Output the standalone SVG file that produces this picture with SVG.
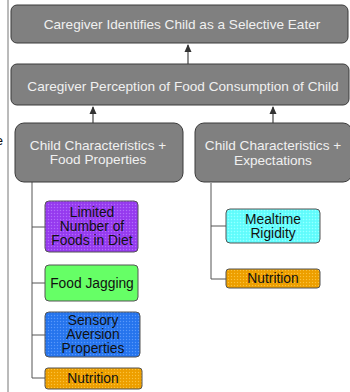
<svg xmlns="http://www.w3.org/2000/svg" width="350" height="392" viewBox="0 0 350 392">
<style>
.g{fill:#808080;stroke:#3a3a3a;stroke-width:1}
.wt{font-family:"Liberation Sans",Arial,sans-serif;font-size:13.6px;fill:#f0f0f0;text-anchor:middle}
.bt{font-family:"Liberation Sans",Arial,sans-serif;font-size:13.8px;fill:#111;text-anchor:middle}
.ln{fill:none;stroke:#555;stroke-width:1}
.ar{fill:none;stroke:#444;stroke-width:1.2}
</style>
<defs>
<marker id="ah" viewBox="0 0 8 8" refX="7" refY="4" markerWidth="7" markerHeight="7" orient="auto">
<path d="M0,0.5 L8,4 L0,7.5 Z" fill="#333"/>
</marker>
<pattern id="pp" width="3" height="3" patternUnits="userSpaceOnUse"><rect width="3" height="3" fill="#9a3ef2"/><rect width="1" height="1" fill="#b070f8"/><rect x="1.5" y="1.5" width="1" height="1" fill="#8830e0"/></pattern>
<pattern id="pg" width="3" height="3" patternUnits="userSpaceOnUse"><rect width="3" height="3" fill="#66ff66"/></pattern>
<pattern id="pb" width="3" height="3" patternUnits="userSpaceOnUse"><rect width="3" height="3" fill="#2a78f0"/><rect width="1" height="1" fill="#5a98f8"/><rect x="1.5" y="1.5" width="1" height="1" fill="#1a68e0"/></pattern>
<pattern id="pc" width="3" height="3" patternUnits="userSpaceOnUse"><rect width="3" height="3" fill="#66ffff"/><rect width="1" height="1" fill="#99ffff"/><rect x="1.5" y="1.5" width="1" height="1" fill="#55eeee"/></pattern>
<pattern id="po" width="3" height="3" patternUnits="userSpaceOnUse"><rect width="3" height="3" fill="#f0a200"/><rect width="1" height="1" fill="#f8c040"/><rect x="1.5" y="1.5" width="1" height="1" fill="#e09400"/></pattern>
</defs>
<rect width="350" height="392" fill="#fff"/>
<line x1="8" y1="0" x2="8" y2="392" stroke="#777" stroke-width="1"/>
<text x="3" y="145" font-family="Liberation Sans,Arial,sans-serif" font-size="13.6" fill="#111" text-anchor="end">e</text>
<g id="connectors">
<line class="ar" x1="188" y1="64" x2="188" y2="45" marker-end="url(#ah)"/>
<line class="ar" x1="93" y1="123" x2="93" y2="107" marker-end="url(#ah)"/>
<line class="ar" x1="273" y1="123" x2="273" y2="107" marker-end="url(#ah)"/>
<path class="ln" d="M32,182 V378 H45 M32,227 H45 M32,283 H45 M32,335 H45"/>
<path class="ln" d="M211,183 V279 H226 M211,226 H226"/>
</g>
<g id="n-top"><rect class="g" x="11" y="5" width="337" height="38" rx="6"/><text class="wt" x="182" y="29">Caregiver Identifies Child as a Selective Eater</text></g>
<g id="n-perception"><rect class="g" x="11" y="64" width="338" height="41" rx="6"/><text class="wt" x="183" y="91">Caregiver Perception of Food Consumption of Child</text></g>
<g id="n-food"><rect class="g" x="15" y="123" width="168" height="59" rx="9"/><text class="wt" x="98" y="150">Child Characteristics +</text><text class="wt" x="98" y="164">Food Properties</text></g>
<g id="n-expect"><rect class="g" x="195" y="123" width="157" height="59" rx="9"/><text class="wt" x="273" y="150">Child Characteristics +</text><text class="wt" x="273" y="165">Expectations</text></g>
<g id="n-limited"><rect x="45" y="201" width="93" height="51" rx="4" fill="url(#pp)" stroke="#555"/><text class="bt" x="92" y="217">Limited</text><text class="bt" x="92" y="231">Number of</text><text class="bt" x="92" y="245">Foods in Diet</text></g>
<g id="n-jagging"><rect x="45" y="265" width="93" height="36" rx="4" fill="url(#pg)" stroke="#555"/><text class="bt" x="92" y="288">Food Jagging</text></g>
<g id="n-sensory"><rect x="45" y="312" width="95" height="45" rx="4" fill="url(#pb)" stroke="#555"/><text class="bt" x="93" y="325">Sensory</text><text class="bt" x="93" y="339">Aversion</text><text class="bt" x="93" y="353">Properties</text></g>
<g id="n-nutrition1"><rect x="45" y="368" width="97" height="21" rx="3" fill="url(#po)" stroke="#555"/><text class="bt" x="93" y="383">Nutrition</text></g>
<g id="n-rigidity"><rect x="226" y="209" width="94" height="34" rx="4" fill="url(#pc)" stroke="#555"/><text class="bt" x="273" y="224">Mealtime</text><text class="bt" x="273" y="238">Rigidity</text></g>
<g id="n-nutrition2"><rect x="226" y="269" width="94" height="19" rx="3" fill="url(#po)" stroke="#555"/><text class="bt" x="273" y="283">Nutrition</text></g>
</svg>
